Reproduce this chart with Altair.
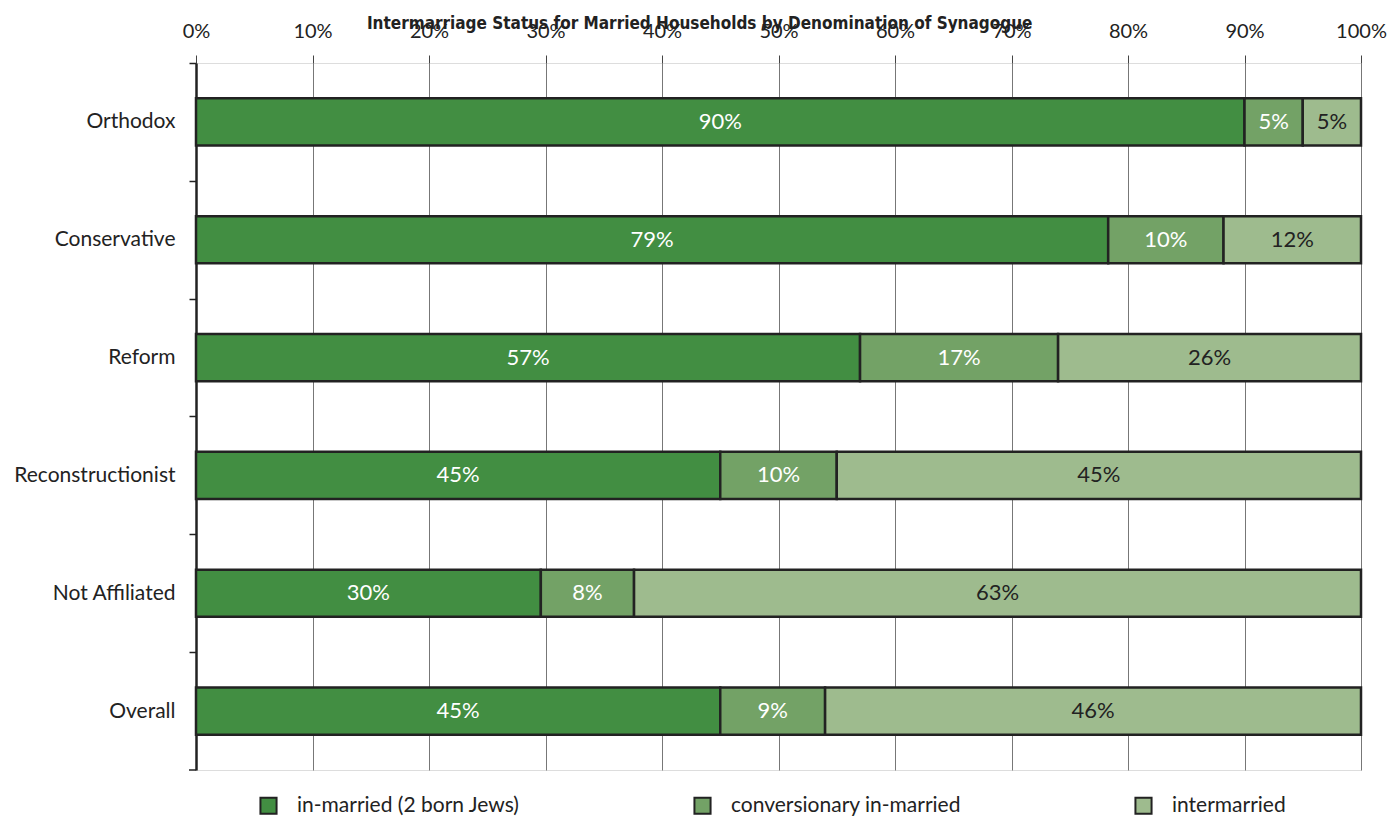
import altair as alt
import pandas as pd

categories = ["Orthodox", "Conservative", "Reform", "Reconstructionist", "Not Affiliated", "Overall"]
series = ["in-married (2 born Jews)", "conversionary in-married", "intermarried"]
in_married = [90, 78.3, 57, 45, 29.6, 45]
conversionary = [5, 9.9, 17, 10, 8, 9]
intermarried = [5, 11.8, 26, 45, 62.4, 46]
in_married_lbl = ["90%", "79%", "57%", "45%", "30%", "45%"]
conversionary_lbl = ["5%", "10%", "17%", "10%", "8%", "9%"]
intermarried_lbl = ["5%", "12%", "26%", "45%", "63%", "46%"]
colors = ["#428e42", "#73a266", "#9ebb8e"]
text_colors = ["white", "white", "#222222"]

rows = []
for vals, lbls, s, i in [(in_married, in_married_lbl, series[0], 0),
                         (conversionary, conversionary_lbl, series[1], 1),
                         (intermarried, intermarried_lbl, series[2], 2)]:
    for c, v, l in zip(categories, vals, lbls):
        rows.append({"cat": c, "series": s, "value": v, "label": l, "order": i})
df = pd.DataFrame(rows)

FONT = "Lato"
W, H = 1165, 707
HALF_STEP = H / len(categories) / 2

y_enc = alt.Y("cat:N", sort=categories, title=None,
              scale=alt.Scale(paddingInner=0.6, paddingOuter=0.3),
              axis=alt.Axis(labelFontSize=21, labelFont=FONT,
                            labelColor="#222222", tickColor="#222222", tickSize=7,
                            tickWidth=1.5, domainColor="#222222", domainWidth=2.5,
                            tickOffset=-HALF_STEP, labelOffset=HALF_STEP,
                            labelPadding=14, minExtent=183, maxExtent=183))

base = alt.Chart(df)

bars = base.mark_bar(stroke="#222222", strokeWidth=2.5).encode(
    x=alt.X("value:Q", stack="zero", title=None,
            scale=alt.Scale(domain=[0, 100], nice=False),
            axis=alt.Axis(orient="top", values=list(range(0, 101, 10)),
                          labelExpr="datum.value + '%'", labelFontSize=20,
                          labelFont=FONT, labelColor="#222222", grid=True,
                          gridColor="#777777", gridWidth=1, tickColor="#444444",
                          tickSize=8, labelPadding=14, domain=False, labelFlush=False,
                          minExtent=50, maxExtent=50)),
    y=y_enc,
    color=alt.Color("series:N", sort=series,
                    scale=alt.Scale(domain=series, range=colors),
                    legend=alt.Legend(title=None, orient="none", direction="horizontal",
                                      legendX=62, legendY=H + 25,
                                      symbolType="square", symbolSize=260,
                                      symbolStrokeColor="#222222", symbolStrokeWidth=2,
                                      symbolOpacity=1, labelLimit=400,
                                      labelFontSize=21, labelFont=FONT, labelColor="#222222",
                                      labelOffset=18, columnPadding=170)),
    order=alt.Order("order:Q"),
)

texts = base.transform_stack(
    stack="value", groupby=["cat"], as_=["v0", "v1"],
    sort=[alt.SortField("order", order="ascending")]
).transform_calculate(
    mid="(datum.v0 + datum.v1) / 2"
).mark_text(fontSize=22, font=FONT).encode(
    x=alt.X("mid:Q"),
    y=alt.Y("cat:N", sort=categories),
    text="label:N",
    color=alt.Color("series:N", sort=series,
                    scale=alt.Scale(domain=series, range=text_colors), legend=None),
)

bottom_tick = alt.Chart(pd.DataFrame({"t": [0]})).mark_rule(
    color="#222222", strokeWidth=1.5
).encode(x=alt.value(-7), x2=alt.value(0), y=alt.value(H))

chart = alt.layer(bars, texts, bottom_tick).resolve_scale(color="independent").properties(
    width=W, height=H,
    title=alt.TitleParams("Intermarriage Status for Married Households by Denomination of Synagogue",
                          font="DejaVu Sans Condensed", fontSize=17, fontWeight="bold",
                          color="#222222", anchor="middle", frame="bounds", offset=-20),
).configure_view(stroke="#222222", strokeWidth=2.5).configure(padding={"left": 5, "top": 5, "right": 5, "bottom": 5})

chart.save("out.html", embed_options={"renderer": "svg", "actions": False})
